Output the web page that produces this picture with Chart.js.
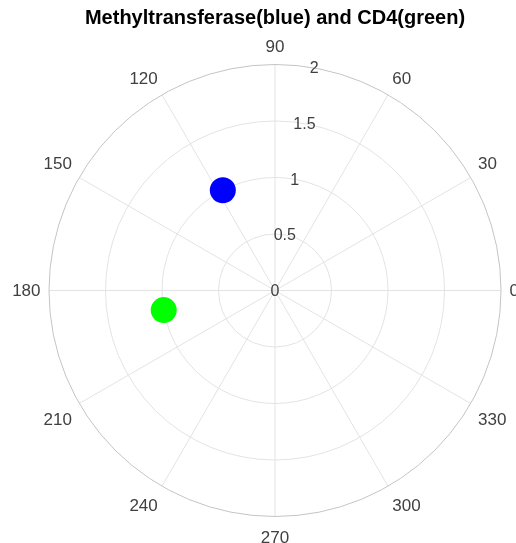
<!DOCTYPE html>
<html>
<head>
<meta charset="utf-8">
<script src="https://cdn.jsdelivr.net/npm/chart.js@4"></script>
<style>
    html, body { margin: 0; padding: 0; background: #fff; }
    #wrap { width: 516px; height: 543px; }
</style>
</head>
<body>
<div id="wrap"><canvas id="chart"></canvas></div>
<script>
// polar data: angle in degrees, radius
const seriesNames = ['Methyltransferase', 'CD4'];
const seriesAngles = [117.5, 190];
const seriesRadii = [1.0, 1.0];
const seriesColors = ['#0000ff', '#00ff00'];

const rTicks = [0, 0.5, 1, 1.5, 2];
const thetaTicks = [0, 30, 60, 90, 120, 150, 180, 210, 240, 270, 300, 330];
const titleText = 'Methyltransferase(blue) and CD4(green)';

const rMax = 2;
const rTickAngle = 80;

function toXY(angleDeg, r) {
    const a = angleDeg * Math.PI / 180;
    return { x: r * Math.cos(a), y: r * Math.sin(a) };
}

const datasets = seriesNames.map((name, i) => ({
    label: name,
    data: [toXY(seriesAngles[i], seriesRadii[i])],
    backgroundColor: seriesColors[i],
    borderColor: seriesColors[i],
    pointRadius: 13,
    pointHoverRadius: 13,
    borderWidth: 0
}));

// draws the polar grid, labels and title
const polarGrid = {
    id: 'polarGrid',
    beforeDatasetsDraw(chart) {
        const ctx = chart.ctx;
        const xs = chart.scales.x;
        const ys = chart.scales.y;
        const cx = xs.getPixelForValue(0);
        const cy = ys.getPixelForValue(0);
        const pr = r => xs.getPixelForValue(r) - cx;
        const R = pr(rMax);

        ctx.save();
        ctx.lineWidth = 1;
        ctx.strokeStyle = '#e3e3e3';
        rTicks.forEach(r => {
            if (r <= 0 || r >= rMax) return;
            ctx.beginPath();
            ctx.arc(cx, cy, pr(r), 0, Math.PI * 2);
            ctx.stroke();
        });
        thetaTicks.forEach(t => {
            const p = toXY(t, rMax);
            ctx.beginPath();
            ctx.moveTo(cx, cy);
            ctx.lineTo(xs.getPixelForValue(p.x), ys.getPixelForValue(p.y));
            ctx.stroke();
        });
        ctx.strokeStyle = '#c4c4c4';
        ctx.beginPath();
        ctx.arc(cx, cy, R, 0, Math.PI * 2);
        ctx.stroke();

        ctx.fillStyle = '#404040';
        ctx.font = '16px "Liberation Sans", Arial, sans-serif';
        ctx.textAlign = 'center';
        ctx.textBaseline = 'middle';

        // radial tick labels along 80 degrees
        rTicks.forEach(r => {
            const p = toXY(rTickAngle, r);
            ctx.fillText(String(r), xs.getPixelForValue(p.x), ys.getPixelForValue(p.y) + 1);
        });

        // angle labels outside the circle, aligned by their inner edge
        ctx.font = '17px "Liberation Sans", Arial, sans-serif';
        const anchorR = R + 8.5;
        thetaTicks.forEach(t => {
            const a = t * Math.PI / 180;
            const c = Math.cos(a);
            const s = Math.sin(a);
            ctx.textAlign = c > 0.01 ? 'left' : (c < -0.01 ? 'right' : 'center');
            let y = cy - anchorR * s;
            if (s > 0.01) y -= 9.5;
            else if (s < -0.01) y += 12;
            ctx.fillText(String(t), cx + anchorR * c, y + 1);
        });

        ctx.textAlign = 'center';
        ctx.fillStyle = '#000';
        ctx.font = 'bold 20px "Liberation Sans", Arial, sans-serif';
        ctx.fillText(titleText, cx, 18);
        ctx.restore();
    }
};

new Chart(document.getElementById('chart'), {
    type: 'scatter',
    data: { datasets: datasets },
    options: {
        responsive: true,
        maintainAspectRatio: false,
        animation: false,
        layout: { padding: { left: 49, right: 15, top: 64.5, bottom: 26.5 } },
        plugins: {
            legend: { display: false },
            title: { display: false },
            tooltip: { enabled: false }
        },
        scales: {
            x: { type: 'linear', min: -rMax, max: rMax, display: false },
            y: { type: 'linear', min: -rMax, max: rMax, display: false }
        }
    },
    plugins: [polarGrid]
});
</script>
</body>
</html>
